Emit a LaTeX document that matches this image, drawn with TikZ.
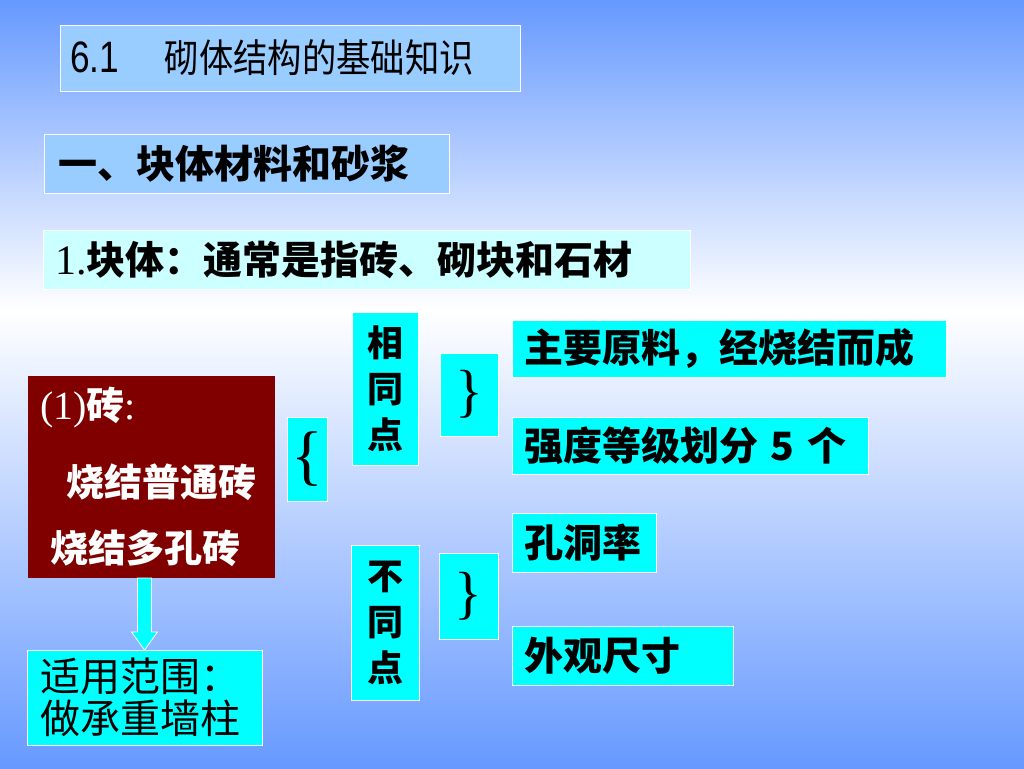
\documentclass[tikz,border=0pt]{standalone}
\usepackage{fontspec}
\setmainfont{Liberation Serif}
\setsansfont{Liberation Sans}
\newfontfamily\cjk{Noto Sans CJK SC}
\usetikzlibrary{calc}
\newcommand{\fsz}[1]{\fontsize{#1}{#1}\selectfont}
\definecolor{bgblue}{RGB}{102,153,255}
\definecolor{skyfill}{RGB}{153,204,255}
\definecolor{icefill}{RGB}{204,255,255}
\definecolor{aquafill}{RGB}{0,255,255}
\definecolor{brickred}{RGB}{128,0,0}
\tikzset{
  box/.style={draw=white, line width=0.8pt, anchor=north west, inner sep=0pt,
    inner xsep=12pt, outer sep=0pt, align=left},
  aqua/.style={box, fill=aquafill},
  kai/.style={font=\cjk\bfseries\fsz{39}},
  stack/.style={aqua, inner xsep=0pt, align=center,
    font=\cjk\bfseries\fontsize{36}{46}\selectfont},
  bracebox/.style={aqua, inner xsep=0pt, align=center},
  brickline/.style={anchor=west, inner sep=0pt, text=white},
}
\begin{document}
\begin{tikzpicture}[x=1pt, y=-1pt]
  \useasboundingbox (0,0) rectangle (1024,768);
  % background
  \shade[top color=bgblue, bottom color=white] (0,0) rectangle (1024,310);
  \shade[top color=white, bottom color=bgblue] (0,310) rectangle (1024,768);

  % headings
  \node[box, fill=skyfill, text width=440pt, inner xsep=10pt, minimum height=66pt]
    (title) at (60,25) {\scalebox{0.8}[1]{\sffamily\fsz{44}6.1}\hspace{46pt}%
      \scalebox{0.88}[1]{\cjk\fsz{39}砌体结构的基础知识}};
  \node[box, fill=skyfill, text width=377pt, inner xsep=14pt, minimum height=59pt, kai]
    (partone) at (44,134) {一、块体材料和砂浆};
  \node[box, fill=icefill, text width=623pt, minimum height=59pt, kai]
    (blocks) at (43,230) {{\rmfamily\mdseries\fsz{42}1.}块体：通常是指砖、砌块和石材};

  % brick
  \node[box, draw=none, fill=brickred, minimum width=247pt, minimum height=202pt]
    (brick) at (28,376) {};
  \node[brickline] (brickA) at (40,408) {\fsz{40}(1){\cjk\bfseries\fsz{38}砖}:};
  \node[brickline, font=\cjk\bfseries\fsz{38}] (brickB) at (66,482) {烧结普通砖};
  \node[brickline, font=\cjk\bfseries\fsz{38}] (brickC) at (50,548) {烧结多孔砖};

  \node[aqua, text width=209pt, inner xsep=13pt, minimum height=95pt,
    font=\cjk\fontsize{40}{42}\selectfont] (usage) at (27,650) {适用范围：\\做承重墙柱};

  % arrow brick -> usage
  \coordinate (arrtip) at (usage.north);
  \coordinate (arrtop) at (arrtip |- brick.south);
  \filldraw[draw=white, line width=0.8pt, fill=aquafill]
    ($(arrtop)+(-7,0)$) -- ($(arrtip)+(-7,-18)$) -- ($(arrtip)+(-13,-18)$)
    -- (arrtip) -- ($(arrtip)+(13,-18)$) -- ($(arrtip)+(7,-18)$)
    -- ($(arrtop)+(7,0)$) -- cycle;

  % braces and groups
  \node[bracebox, minimum width=40pt, minimum height=84pt] (lbrace) at (287,417) {\fsz{66}\{};
  \node[stack, minimum width=66pt, minimum height=153pt] (same) at (352,312) {相\\同\\点};
  \node[stack, minimum width=68pt, minimum height=155pt] (diff) at (351,545) {不\\同\\点};
  \node[bracebox, minimum width=58pt, minimum height=83pt] (rbraceA) at (440,353) {\fsz{58}\}};
  \node[bracebox, minimum width=59pt, minimum height=86pt] (rbraceB) at (439,553) {\fsz{58}\}};

  % properties
  \node[aqua, text width=410pt, minimum height=57pt, kai] (raw) at (512,320) {主要原料，经烧结而成};
  \node[aqua, text width=332pt, minimum height=57pt, kai] (grade) at (512,417) {强度等级划分 5 个};
  \node[aqua, text width=120pt, minimum height=59pt, kai] (holes) at (512,513) {孔洞率};
  \node[aqua, text width=197pt, minimum height=59pt, kai] (size) at (512,626) {外观尺寸};
\end{tikzpicture}
\end{document}
